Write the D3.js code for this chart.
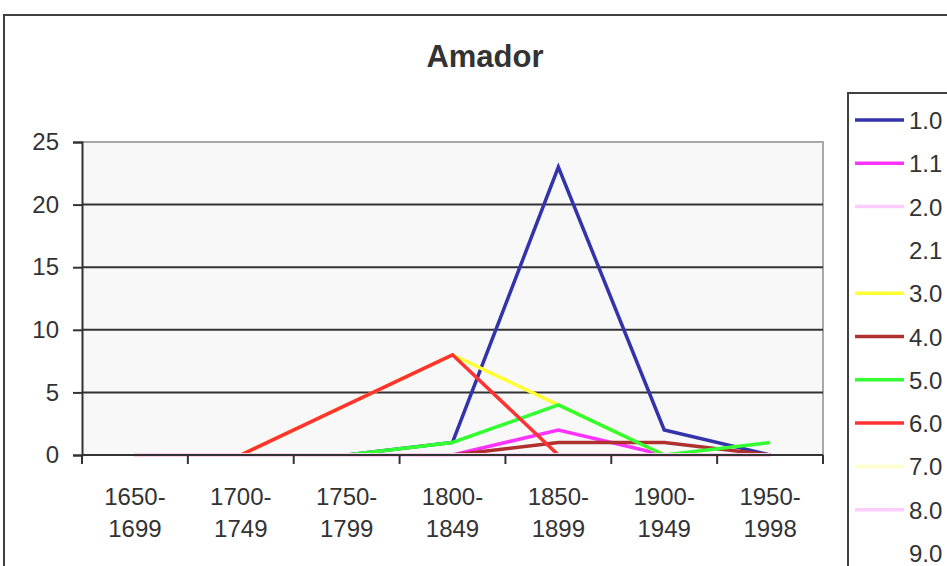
<!DOCTYPE html>
<meta charset="utf-8">
<style>
  body { margin: 0; background: #fff; }
  text { font-family: "Liberation Sans", Arial, sans-serif; fill: #333; }
</style>
<svg width="947" height="566"></svg>
<script src="https://d3js.org/d3.v7.min.js"></script>
<script>
// periods on the x axis, two lines each
var periods = ["1650-1699", "1700-1749", "1750-1799", "1800-1849", "1850-1899", "1900-1949", "1950-1998"];
var yTicks = [0, 5, 10, 15, 20, 25];

// series names, colours and values (empty = no line)
var seriesNames = ["1.0", "1.1", "2.0", "2.1", "3.0", "4.0", "5.0", "6.0", "7.0", "8.0", "9.0"];
var seriesColors = ["#3333aa", "#ff33ff", "#ffccff", null, "#ffff33", "#b03030", "#33ff33", "#ff3333", "#ffffcc", "#ffccff", null];
var s10 = [0, 0, 0, 1, 23, 2, 0];
var s11 = [0, 0, 0, 0, 2, 0, 0];
var s20 = [0, 0, 0, 0, 0, 0, 0];
var s21 = [];
var s30 = [0, 0, 4, 8, 4, 0, 0];
var s40 = [0, 0, 0, 0, 1, 1, 0];
var s50 = [0, 0, 0, 1, 4, 0, 1];
var s60 = [0, 0, 4, 8, 0, 0, 0];
var s70 = [0, 0, 0, 0, 0, 0, 0];
var s80 = [0, 0, 0, 0, 0, 0, 0];
var s90 = [];
var seriesValues = [s10, s11, s20, s21, s30, s40, s50, s60, s70, s80, s90];

var svg = d3.select("svg");

// outer chart frame
svg.append("rect").attr("x", 4).attr("y", 15).attr("width", 1000).attr("height", 600)
  .attr("fill", "#fff").attr("stroke", "#404040").attr("stroke-width", 2);

svg.append("text").attr("x", 485).attr("y", 67).attr("text-anchor", "middle")
  .style("font-size", "31px").style("font-weight", "bold").text("Amador");

var pLeft = 82, pRight = 823, pTop = 142, pBottom = 455;
var x = d3.scaleBand().domain(periods).range([pLeft, pRight]);
var y = d3.scaleLinear().domain([0, 25]).range([pBottom, pTop]);

// plot area
svg.append("rect").attr("x", pLeft).attr("y", pTop).attr("width", pRight - pLeft).attr("height", pBottom - pTop)
  .attr("fill", "#f8f8f8");
svg.append("path").attr("d", "M" + pLeft + "," + pTop + "H" + pRight + "V" + pBottom)
  .attr("fill", "none").attr("stroke", "#a8a8a8").attr("stroke-width", 2);

// gridlines
svg.append("g").selectAll("line").data(yTicks.filter(function(d) { return d > 0 && d < 25; }))
  .enter().append("line")
  .attr("x1", pLeft).attr("x2", pRight)
  .attr("y1", function(d) { return y(d); }).attr("y2", function(d) { return y(d); })
  .attr("stroke", "#333").attr("stroke-width", 2);

// series lines
var line = d3.line()
  .x(function(d, i) { return x(periods[i]) + x.bandwidth() / 2; })
  .y(function(d) { return y(d); });

seriesValues.forEach(function(vals, k) {
  if (!vals.length || !seriesColors[k]) return;
  svg.append("path").datum(vals)
    .attr("d", line)
    .attr("fill", "none")
    .attr("stroke", seriesColors[k])
    .attr("stroke-width", 3.5)
    .attr("stroke-linejoin", "miter");
});

// y axis
var yAxis = svg.append("g").attr("transform", "translate(" + pLeft + ",0)")
  .call(d3.axisLeft(y).tickValues(yTicks).tickSize(9).tickPadding(14));
yAxis.selectAll("path, line").attr("stroke", "#333").attr("stroke-width", 2);
yAxis.selectAll("text").style("font-size", "24px").style("font-family", "Liberation Sans, Arial, sans-serif").attr("fill", "#333");

// x axis with ticks between categories
var xAxis = svg.append("g").attr("transform", "translate(0," + pBottom + ")");
xAxis.append("line").attr("x1", pLeft).attr("x2", pRight).attr("stroke", "#333").attr("stroke-width", 2);
var edges = periods.map(function(p) { return x(p); }).concat([pRight]);
xAxis.selectAll(".tk").data(edges).enter().append("line")
  .attr("x1", function(d) { return d; }).attr("x2", function(d) { return d; })
  .attr("y1", 0).attr("y2", 9).attr("stroke", "#333").attr("stroke-width", 2);
var lab = xAxis.selectAll(".lab").data(periods).enter().append("text")
  .attr("text-anchor", "middle").style("font-size", "24px")
  .attr("transform", function(d) { return "translate(" + (x(d) + x.bandwidth() / 2) + ",0)"; });
lab.append("tspan").attr("x", 0).attr("y", 50).text(function(d) { return d.split("-")[0] + "-"; });
lab.append("tspan").attr("x", 0).attr("y", 82).text(function(d) { return d.split("-")[1]; });

// legend
var lg = svg.append("g");
lg.append("rect").attr("x", 848).attr("y", 93).attr("width", 200).attr("height", 520)
  .attr("fill", "#fff").attr("stroke", "#404040").attr("stroke-width", 2);
var item = lg.selectAll(".item").data(seriesNames).enter().append("g")
  .attr("transform", function(d, i) { return "translate(0," + (120 + i * 43.3) + ")"; });
item.append("line").attr("x1", 855).attr("x2", 904)
  .attr("stroke", function(d, i) { return seriesColors[i] || "none"; })
  .attr("stroke-width", 3.5);
item.append("text").attr("x", 909).attr("y", 9).style("font-size", "24px").text(function(d) { return d; });
</script>
